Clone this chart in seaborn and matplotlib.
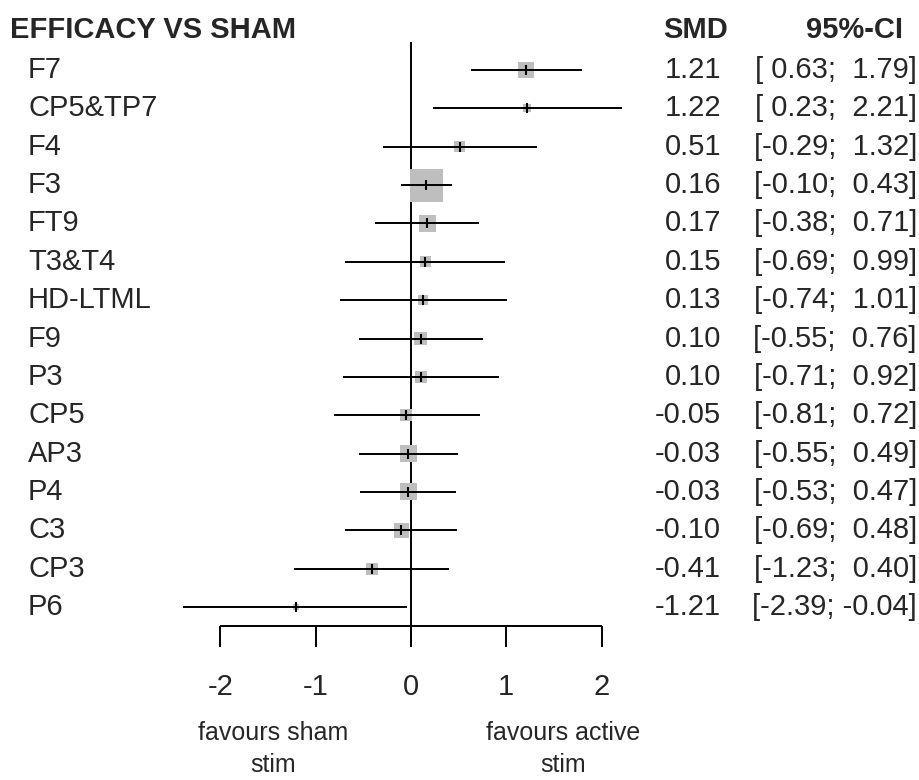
import numpy as np
import pandas as pd
import matplotlib
matplotlib.use("Agg")
import matplotlib.pyplot as plt
import seaborn as sns

# ---- data ----
studies = ["F7", "CP5&TP7", "F4", "F3", "FT9", "T3&T4", "HD-LTML", "F9", "P3",
           "CP5", "AP3", "P4", "C3", "CP3", "P6"]
smd = [1.21, 1.22, 0.51, 0.16, 0.17, 0.15, 0.13, 0.10, 0.10,
       -0.05, -0.03, -0.03, -0.10, -0.41, -1.21]
ci_lower = [0.63, 0.23, -0.29, -0.10, -0.38, -0.69, -0.74, -0.55, -0.71,
            -0.81, -0.55, -0.53, -0.69, -1.23, -2.39]
ci_upper = [1.79, 2.21, 1.32, 0.43, 0.71, 0.99, 1.01, 0.76, 0.92,
            0.72, 0.49, 0.47, 0.48, 0.40, -0.04]
weights = [7.4, 1.8, 3.5, 31.3, 8.3, 3.5, 2.9, 4.9, 4.1,
           4.1, 8.3, 8.3, 6.5, 4.1, 1.0]
xticks = [-2, -1, 0, 1, 2]
xtick_labels = ["-2", "-1", "0", "1", "2"]
title = "EFFICACY VS SHAM"
label_left = "favours sham\nstim"
label_right = "favours active\nstim"

df = pd.DataFrame({"study": studies, "smd": smd, "lo": ci_lower,
                   "hi": ci_upper, "w": weights})
df["row"] = np.arange(len(df))

sns.set_style("white")
plt.rcParams["font.family"] = ["Liberation Sans", "DejaVu Sans"]

W, H, DPI = 920, 780, 100
fig = plt.figure(figsize=(W / DPI, H / DPI), dpi=DPI)
ax = fig.add_axes([0, 0, 1, 1])

# pixel geometry of the reference
x0_px, unit_px = 411.0, 95.3
row0_px, row_px = 70.0, 38.36
def px_x(p):
    return (p - x0_px) / unit_px
def px_y(p):
    return (p - row0_px) / row_px

ax.set_xlim(px_x(0), px_x(W))
ax.set_ylim(px_y(H), px_y(0))
ax.set_axis_off()

# box sizes: side proportional to sqrt(weight), largest ~33 px
max_side_px = 33.0
side_px = max_side_px * np.sqrt(df["w"] / df["w"].max())
side_pt = side_px * 72.0 / DPI
sizes = side_pt ** 2

axis_y = px_y(626)
tick_end = px_y(647)

# zero line (behind boxes)
ax.vlines(0, px_y(42), tick_end, color="black", lw=1.4, zorder=1)

# weight boxes
sns.scatterplot(data=df, x="smd", y="row", marker="s", s=sizes,
                color="#bebebe", edgecolor="none", linewidth=0,
                legend=False, ax=ax, zorder=2)

# confidence intervals
ax.hlines(df["row"], df["lo"], df["hi"], color="black", lw=1.4, zorder=3)
ax.scatter(df["smd"], df["row"], marker="|", s=(10 * 72 / DPI) ** 2,
           color="black", linewidths=1.5, zorder=4)

# x axis
ax.hlines(axis_y, xticks[0], xticks[-1], color="black", lw=1.4, zorder=3)
ax.vlines(xticks, axis_y, tick_end, color="black", lw=1.4, zorder=3)
for xt, lab in zip(xticks, xtick_labels):
    ax.text(xt, px_y(687), lab, ha="center", va="center", fontsize=21)

ax.text(px_x(273), px_y(749), label_left, ha="center", va="center",
        fontsize=18, linespacing=1.38)
ax.text(px_x(563), px_y(749), label_right, ha="center", va="center",
        fontsize=18, linespacing=1.38)

fs = 21
# title and headers
ax.text(px_x(10), px_y(30), title, ha="left", va="center",
        fontsize=fs, fontweight="bold")
ax.text(px_x(663), px_y(30), "SMD", ha="left", va="center",
        fontsize=fs, fontweight="bold")
ax.text(px_x(903), px_y(30), "95%-CI", ha="right", va="center",
        fontsize=fs, fontweight="bold")

# study labels and numbers
for _, r in df.iterrows():
    ax.text(px_x(28), r["row"], r["study"], ha="left", va="center", fontsize=fs)
    ax.text(px_x(721), r["row"], f"{r['smd']:.2f}", ha="right", va="center",
            fontsize=fs)
    ci = f"[{r['lo']:5.2f}; {r['hi']:5.2f}]"
    ax.text(px_x(917), r["row"], ci, ha="right", va="center", fontsize=fs)

fig.savefig("out.png", dpi=DPI, facecolor="white")
